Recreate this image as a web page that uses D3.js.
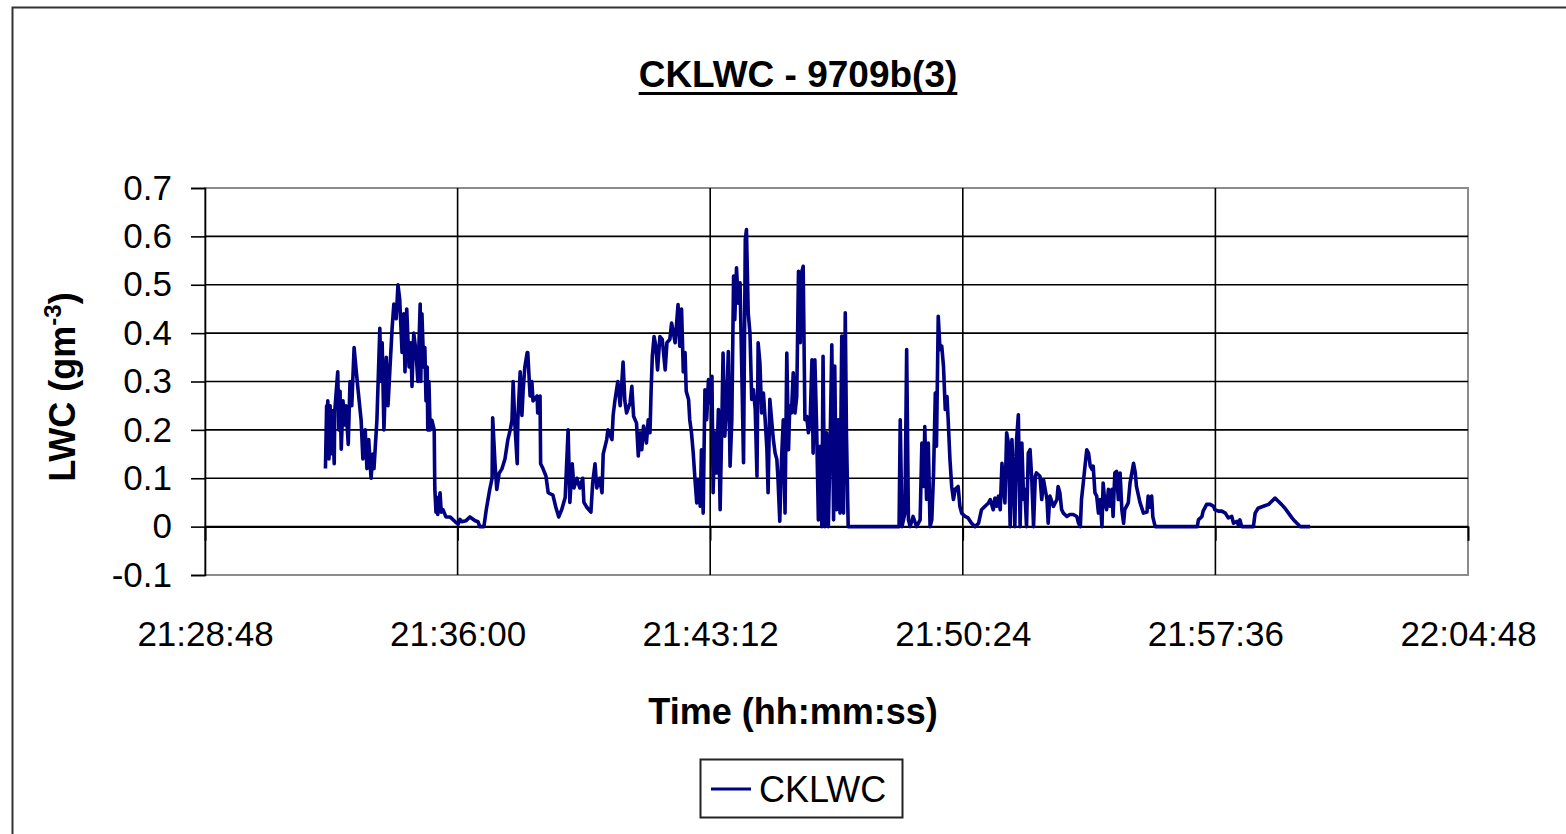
<!DOCTYPE html>
<html>
<head>
<meta charset="utf-8">
<script src="https://cdn.jsdelivr.net/npm/d3@7"></script>
<style>
  body { margin: 0; background: #fff; }
  text { font-family: Arial, "Liberation Sans", sans-serif; }
</style>
</head>
<body>
<svg id="Chart"></svg>
<script>
// start of the time axis, samples are [seconds after start, LWC g/m3]
var startTime = "21:28:48"
var xTickLabels = ["21:28:48", "21:36:00", "21:43:12", "21:50:24", "21:57:36", "22:04:48"]
var yTicks = [-0.1, 0, 0.1, 0.2, 0.3, 0.4, 0.5, 0.6, 0.7]
var seriesName = "CKLWC"

var lwcSamples = [
  [206,0.12],[208,0.25],[209,0.22],[210,0.26],[212,0.14],[214,0.25],[215,0.15],[217,0.24],[219,0.2],[221,0.13],
  [222,0.24],[227,0.32],[229,0.2],[231,0.28],[233,0.16],[236,0.26],[239,0.21],[241,0.25],[245,0.17],[248,0.3],
  [251,0.25],[255,0.37],[258,0.33],[262,0.28],[267,0.22],[270,0.14],[274,0.2],[277,0.12],[280,0.18],[284,0.1],
  [287,0.15],[289,0.12],[294,0.22],[299,0.41],[301,0.3],[303,0.38],[306,0.2],[310,0.35],[313,0.25],[316,0.32],
  [320,0.41],[323,0.46],[327,0.43],[330,0.5],[333,0.47],[337,0.36],[340,0.44],[342,0.32],[345,0.45],[349,0.33],
  [352,0.38],[354,0.29],[357,0.4],[361,0.36],[364,0.3],[368,0.46],[369,0.3],[371,0.44],[374,0.33],[376,0.37],
  [378,0.26],[380,0.33],[381,0.2],[383,0.3],[385,0.2],[388,0.22],[392,0.2],[393,0.08],[395,0.03],[397,0.06],
  [398,0.025],[402,0.07],[404,0.03],[407,0.035],[412,0.02],[419,0.02],[428,0.01],[433,0.005],[436,0.015],[439,0.01],
  [446,0.012],[453,0.02],[462,0.012],[467,0.01],[470,0],[477,0],[481,0.035],[487,0.077],[491,0.1],[492,0.225],
  [496,0.13],[499,0.077],[503,0.11],[508,0.12],[513,0.14],[518,0.18],[522,0.2],[525,0.22],[527,0.3],[530,0.21],
  [534,0.13],[535,0.22],[539,0.32],[542,0.23],[544,0.28],[547,0.33],[551,0.36],[552,0.36],[556,0.27],[559,0.3],
  [561,0.26],[568,0.27],[569,0.235],[573,0.27],[574,0.13],[578,0.12],[583,0.105],[587,0.07],[595,0.065],[600,0.04],
  [605,0.02],[610,0.035],[616,0.06],[621,0.2],[624,0.05],[628,0.13],[631,0.08],[636,0.1],[641,0.08],[646,0.1],
  [648,0.05],[653,0.04],[660,0.03],[663,0.09],[667,0.13],[670,0.08],[675,0.1],[679,0.07],[681,0.15],[687,0.18],
  [689,0.2],[696,0.18],[698,0.23],[701,0.26],[706,0.3],[710,0.25],[713,0.3],[715,0.34],[718,0.26],[721,0.235],
  [727,0.256],[730,0.29],[733,0.228],[738,0.214],[741,0.146],[744,0.194],[747,0.159],[750,0.208],[755,0.173],[758,0.221],
  [761,0.194],[763,0.283],[765,0.352],[768,0.393],[771,0.373],[774,0.324],[778,0.393],[782,0.387],[787,0.324],[790,0.38],
  [795,0.387],[798,0.421],[804,0.38],[809,0.459],[812,0.373],[815,0.45],[818,0.32],[821,0.36],[823,0.28],[827,0.263],
  [829,0.221],[832,0.194],[835,0.152],[838,0.097],[841,0.049],[844,0.097],[847,0.042],[849,0.159],[852,0.028],[855,0.283],
  [858,0.221],[861,0.304],[864,0.256],[867,0.311],[869,0.07],[872,0.194],[875,0.111],[878,0.242],[881,0.035],[884,0.221],
  [886,0.359],[889,0.187],[892,0.249],[895,0.362],[898,0.125],[901,0.221],[904,0.518],[906,0.428],[909,0.535],[912,0.462],
  [915,0.504],[918,0.325],[921,0.132],[924,0.593],[926,0.614],[929,0.442],[932,0.4],[935,0.263],[938,0.283],[941,0.242],
  [944,0.104],[946,0.38],[949,0.339],[952,0.235],[955,0.276],[958,0.221],[961,0.159],[963,0.07],[966,0.263],[969,0.221],
  [972,0.18],[975,0.152],[978,0.139],[980,0.097],[983,0.011],[986,0.139],[989,0.221],[992,0.028],[995,0.359],[998,0.159],
  [1000,0.249],[1003,0.235],[1006,0.318],[1009,0.235],[1012,0.269],[1015,0.528],[1018,0.38],[1020,0.524],[1023,0.538],[1026,0.221],
  [1029,0.228],[1032,0.194],[1035,0.221],[1038,0.345],[1040,0.152],[1043,0.345],[1046,0.207],[1049,0.014],[1052,0.166],[1055,0],
  [1057,0.352],[1060,0],[1063,0.194],[1066,0],[1069,0.166],[1072,0.376],[1075,0.014],[1077,0.332],[1080,0.035],[1083,0.221],
  [1086,0.028],[1089,0.394],[1092,0.028],[1095,0.442],[1097,0.194],[1100,0],[1187,0],[1189,0.221],[1192,0],[1197,0.028],
  [1200,0.366],[1203,0.014],[1206,0],[1211,0.021],[1217,0],[1223,0.014],[1226,0.173],[1229,0.083],[1231,0.207],[1234,0.056],
  [1237,0.173],[1240,0],[1243,0.014],[1246,0.111],[1249,0.276],[1251,0.166],[1254,0.435],[1257,0.366],[1260,0.373],[1263,0.331],
  [1266,0.242],[1269,0.269],[1271,0.221],[1274,0.139],[1277,0.083],[1280,0.056],[1283,0.077],[1288,0.083],[1291,0.042],[1294,0.028],
  [1300,0.021],[1305,0.018],[1311,0.007],[1317,0],[1323,0.007],[1328,0.035],[1334,0.042],[1340,0.049],[1343,0.056],[1348,0.035],
  [1351,0.059],[1354,0.042],[1357,0.063],[1360,0.035],[1363,0.131],[1365,0.09],[1368,0.049],[1371,0.194],[1374,0.173],[1377,0],
  [1380,0.18],[1382,0.125],[1385,0],[1388,0.18],[1391,0.231],[1394,0],[1397,0.173],[1400,0.056],[1402,0.077],[1405,0],
  [1408,0.152],[1411,0.159],[1414,0.097],[1417,0],[1420,0.104],[1422,0.111],[1428,0.104],[1431,0.056],[1434,0.097],[1440,0.056],
  [1442,0.007],[1445,0.063],[1451,0.042],[1457,0.056],[1459,0.083],[1462,0.07],[1465,0.035],[1468,0.028],[1474,0.021],[1479,0.025],
  [1485,0.025],[1491,0.021],[1494,0.007],[1497,0],[1499,0.056],[1502,0.09],[1505,0.125],[1508,0.159],[1511,0.152],[1514,0.125],
  [1517,0.118],[1519,0.125],[1522,0.07],[1525,0.063],[1528,0.028],[1531,0.056],[1534,0],[1536,0.09],[1539,0.049],[1542,0.035],
  [1545,0.077],[1548,0.042],[1551,0.077],[1553,0.021],[1556,0.111],[1559,0.114],[1562,0.056],[1565,0.111],[1568,0.035],[1571,0.007],
  [1573,0.035],[1579,0.049],[1582,0.09],[1588,0.131],[1591,0.111],[1593,0.083],[1599,0.05],[1605,0.028],[1611,0.03],[1613,0.063],
  [1616,0.04],[1619,0.063],[1621,0.02],[1625,0],[1697,0],[1699,0.014],[1705,0.021],[1707,0.032],[1713,0.046],[1719,0.046],
  [1725,0.042],[1727,0.035],[1733,0.032],[1739,0.032],[1745,0.028],[1750,0.018],[1756,0.021],[1759,0.007],[1765,0.011],[1767,0.004],
  [1770,0.014],[1773,0],[1793,0],[1796,0.028],[1801,0.038],[1810,0.042],[1819,0.046],[1824,0.052],[1830,0.059],[1836,0.052],
  [1841,0.046],[1847,0.038],[1853,0.028],[1859,0.018],[1864,0.011],[1870,0.004],[1873,0],[1890,0]
]

var dimensions = {
    width: 1566,
    height: 834,
    margin: { top: 188, bottom: 259, left: 205, right: 98 }
}
var plotW = dimensions.width - dimensions.margin.left - dimensions.margin.right
var plotH = dimensions.height - dimensions.margin.top - dimensions.margin.bottom

var parseTime = d3.timeParse("%H:%M:%S")
var formatTime = d3.timeFormat("%H:%M:%S")
var t0 = parseTime(startTime)
var xTicks = xTickLabels.map(parseTime)

var svg = d3.select("#Chart")
            .attr("width", dimensions.width)
            .attr("height", dimensions.height)

svg.append("rect")
   .attr("width", dimensions.width)
   .attr("height", dimensions.height)
   .attr("fill", "#fff")

// chart frame (runs off the right and bottom edge)
svg.append("rect")
   .attr("x", 12.5)
   .attr("y", 7.5)
   .attr("width", 1600)
   .attr("height", 900)
   .attr("fill", "none")
   .attr("stroke", "#333")
   .attr("stroke-width", 2)

var xScale = d3.scaleTime()
               .domain([xTicks[0], xTicks[xTicks.length - 1]])
               .range([0, plotW])

var yScale = d3.scaleLinear()
               .domain([-0.1, 0.7])
               .range([plotH, 0])

var plot = svg.append("g")
              .attr("transform", `translate(${dimensions.margin.left},${dimensions.margin.top})`)

// plot area border
plot.append("rect")
    .attr("width", plotW)
    .attr("height", plotH)
    .attr("fill", "none")
    .attr("stroke", "#8c8c8c")
    .attr("stroke-width", 2)

plot.append("g")
    .selectAll("line")
    .data(yTicks.filter(d => d > -0.1 && d < 0.7))
    .enter()
    .append("line")
    .attr("x1", 0)
    .attr("x2", plotW)
    .attr("y1", d => yScale(d))
    .attr("y2", d => yScale(d))
    .attr("stroke", "#000")
    .attr("stroke-width", 1.6)

plot.append("g")
    .selectAll("line")
    .data(xTicks.slice(1, -1))
    .enter()
    .append("line")
    .attr("x1", d => xScale(d))
    .attr("x2", d => xScale(d))
    .attr("y1", 0)
    .attr("y2", plotH)
    .attr("stroke", "#000")
    .attr("stroke-width", 1.6)

// x axis crosses at zero, tick marks hang below it
var xTickAxis = plot.append("g")
                    .attr("transform", `translate(0,${yScale(0)})`)
                    .call(d3.axisBottom(xScale).tickValues(xTicks).tickSize(14).tickFormat(""))
xTickAxis.selectAll("line").attr("stroke", "#000").attr("stroke-width", 1.6)
xTickAxis.select(".domain").attr("stroke", "#000").attr("stroke-width", 1.6)

// labels sit below the plot area
var xLabelAxis = plot.append("g")
                     .attr("transform", `translate(0,${plotH})`)
                     .call(d3.axisBottom(xScale).tickValues(xTicks).tickSize(0).tickPadding(46).tickFormat(formatTime))
xLabelAxis.select(".domain").remove()
xLabelAxis.selectAll("text")
          .attr("font-family", "Arial, 'Liberation Sans', sans-serif")
          .attr("font-size", 35)
          .attr("fill", "#000")

var yAxis = plot.append("g")
                .call(d3.axisLeft(yScale).tickValues(yTicks).tickSize(14).tickPadding(19).tickFormat(d => String(d)))
yAxis.selectAll("line").attr("stroke", "#000").attr("stroke-width", 1.6)
yAxis.select(".domain").attr("stroke", "#000").attr("stroke-width", 1.6)
yAxis.selectAll("text")
     .attr("font-family", "Arial, 'Liberation Sans', sans-serif")
     .attr("font-size", 35)
     .attr("fill", "#000")

var line = d3.line()
             .x(d => xScale(new Date(t0.getTime() + d[0] * 1000)))
             .y(d => yScale(d[1]))

plot.append("path")
    .datum(lwcSamples)
    .attr("d", line)
    .attr("fill", "none")
    .attr("stroke", "#000080")
    .attr("stroke-width", 3.6)
    .attr("stroke-linejoin", "round")

var title = svg.append("text")
               .attr("x", 798)
               .attr("y", 87)
               .attr("text-anchor", "middle")
               .attr("font-size", 37)
               .attr("font-weight", "bold")
               .text("CKLWC - 9709b(3)")

// solid underline under the title
var tb = title.node().getBBox()
svg.append("rect")
   .attr("x", tb.x)
   .attr("y", 92)
   .attr("width", tb.width)
   .attr("height", 3)
   .attr("fill", "#000")

var xTitle = svg.append("text")
                .attr("x", 793)
                .attr("y", 724)
                .attr("text-anchor", "middle")
                .attr("font-size", 36)
                .attr("font-weight", "bold")
                .text("Time (hh:mm:ss)")

var yTitle = svg.append("text")
                .attr("transform", "translate(75,387) rotate(-90)")
                .attr("text-anchor", "middle")
                .attr("font-size", 36)
                .attr("font-weight", "bold")
yTitle.append("tspan").text("LWC (gm")
yTitle.append("tspan").attr("dy", -14).attr("font-size", 24).text("-3")
yTitle.append("tspan").attr("dy", 14).text(")")

// legend
var legend = svg.append("g")
legend.append("rect")
      .attr("x", 700.5)
      .attr("y", 759.5)
      .attr("width", 202)
      .attr("height", 58)
      .attr("fill", "#fff")
      .attr("stroke", "#222")
      .attr("stroke-width", 2)
legend.append("line")
      .attr("x1", 711)
      .attr("x2", 751)
      .attr("y1", 789)
      .attr("y2", 789)
      .attr("stroke", "#000080")
      .attr("stroke-width", 3)
legend.append("text")
      .attr("x", 759)
      .attr("y", 802)
      .attr("font-size", 36)
      .text(seriesName)
</script>
</body>
</html>
